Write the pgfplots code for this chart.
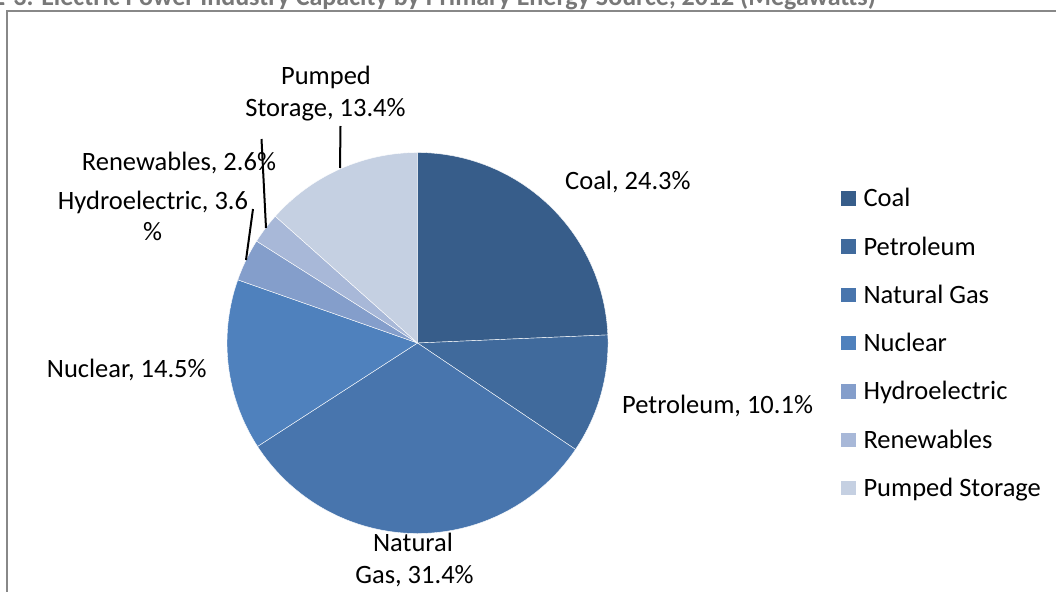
\documentclass[border=0pt]{standalone}
\usepackage{pgfplots}
\pgfplotsset{compat=1.18}
\usepackage{fontspec}
\setmainfont{Carlito}
\definecolor{cCoal}{RGB}{55,93,138}
\definecolor{cPet}{RGB}{64,106,156}
\definecolor{cGas}{RGB}{72,117,173}
\definecolor{cNuc}{RGB}{79,129,189}
\definecolor{cHyd}{RGB}{132,158,203}
\definecolor{cRen}{RGB}{168,184,216}
\definecolor{cPum}{RGB}{197,208,226}
\definecolor{titlegray}{RGB}{120,120,120}
\definecolor{framegray}{RGB}{136,136,136}
% data (percent of capacity)
\def\vCoal{24.3}
\def\vPet{10.1}
\def\vGas{31.4}
\def\vNuc{14.5}
\def\vHyd{3.6}
\def\vRen{2.6}
\def\vPum{13.4}
\pgfmathsetmacro\tot{\vCoal+\vPet+\vGas+\vNuc+\vHyd+\vRen+\vPum}
\pgfmathsetmacro\aA{90}
\pgfmathsetmacro\aB{\aA-360*\vCoal/\tot}
\pgfmathsetmacro\aC{\aB-360*\vPet/\tot}
\pgfmathsetmacro\aD{\aC-360*\vGas/\tot}
\pgfmathsetmacro\aE{\aD-360*\vNuc/\tot}
\pgfmathsetmacro\aF{\aE-360*\vHyd/\tot}
\pgfmathsetmacro\aG{\aF-360*\vRen/\tot}
\pgfmathsetmacro\aH{\aG-360*\vPum/\tot}
\newcommand\lbl{\fontsize{26.5}{32}\selectfont}
\begin{document}
\begin{tikzpicture}
\useasboundingbox (0,0) rectangle (1056pt,-591pt);
\clip (0,0) rectangle (1056pt,-591pt);
\begin{scope}[x=1pt,y=-1pt]
\node[anchor=base west, inner sep=0, text=titlegray, font=\fontsize{26}{30}\selectfont\bfseries] at (-8,6) {2-3. Electric Power Industry Capacity by Primary Energy Source, 2012 (Megawatts)};
\draw[framegray, line width=2.5pt] (7,600) -- (7,11) -- (1070,11);
\end{scope}
\begin{axis}[at={(417.5pt,-343pt)}, anchor=center, scale only axis,
  width=381pt, height=381pt, xmin=-1, xmax=1, ymin=-1, ymax=1,
  hide axis, clip=false]
\addplot[fill=cCoal, draw=white, line width=0.4pt, domain=\aB:\aA, samples=100] ({cos(x)},{sin(x)}) -- (axis cs:0,0) -- cycle;
\addplot[fill=cPet, draw=white, line width=0.4pt, domain=\aC:\aB, samples=60] ({cos(x)},{sin(x)}) -- (axis cs:0,0) -- cycle;
\addplot[fill=cGas, draw=white, line width=0.4pt, domain=\aD:\aC, samples=120] ({cos(x)},{sin(x)}) -- (axis cs:0,0) -- cycle;
\addplot[fill=cNuc, draw=white, line width=0.4pt, domain=\aE:\aD, samples=60] ({cos(x)},{sin(x)}) -- (axis cs:0,0) -- cycle;
\addplot[fill=cHyd, draw=white, line width=0.4pt, domain=\aF:\aE, samples=20] ({cos(x)},{sin(x)}) -- (axis cs:0,0) -- cycle;
\addplot[fill=cRen, draw=white, line width=0.4pt, domain=\aG:\aF, samples=20] ({cos(x)},{sin(x)}) -- (axis cs:0,0) -- cycle;
\addplot[fill=cPum, draw=white, line width=0.4pt, domain=\aH:\aG, samples=60] ({cos(x)},{sin(x)}) -- (axis cs:0,0) -- cycle;
\end{axis}
\begin{scope}[x=1pt,y=-1pt]
% data labels
\node[anchor=base west, inner sep=0, font=\lbl] at (565,189) {Coal, 24.3\%};
\node[anchor=base west, inner sep=0, font=\lbl] at (622,413) {Petroleum, 10.1\%};
\node[anchor=base, inner sep=0, font=\lbl] at (413,551.7) {Natural};
\node[anchor=base, inner sep=0, font=\lbl] at (414.5,583) {Gas, 31.4\%};
\node[anchor=base west, inner sep=0, font=\lbl] at (46.7,377.7) {Nuclear, 14.5\%};
\node[anchor=base, inner sep=0, font=\lbl] at (153,209.3) {Hydroelectric, 3.6};
\node[anchor=base, inner sep=0, font=\lbl] at (152.5,240) {\%};
\node[anchor=base west, inner sep=0, font=\lbl] at (81.7,170) {Renewables, 2.6\%};
\node[anchor=base, inner sep=0, font=\lbl] at (326,84.3) {Pumped};
\node[anchor=base, inner sep=0, font=\lbl] at (325.5,116.7) {Storage, 13.4\%};
% leader lines
\draw[black, line width=2pt] (340.5,126) -- (340,168);
\draw[black, line width=2pt] (261.5,139) -- (266,228);
\draw[black, line width=2pt] (253,209) -- (246,260);
% legend
\foreach \c/\t [count=\i from 0] in {cCoal/Coal, cPet/Petroleum, cGas/Natural Gas, cNuc/Nuclear, cHyd/Hydroelectric, cRen/Renewables, cPum/Pumped Storage}{
  \fill[\c] (841,191+48.3*\i) rectangle (855.5,205.5+48.3*\i);
  \node[anchor=base west, inner sep=0, font=\lbl] at (863.3,206.7+48.3*\i) {\t};
}
\end{scope}
\end{tikzpicture}
\end{document}
